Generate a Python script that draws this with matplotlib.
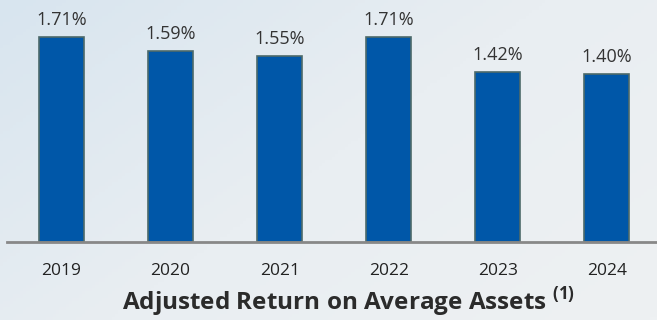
import numpy as np
import matplotlib.pyplot as plt
from matplotlib.colors import LinearSegmentedColormap

years = ["2019", "2020", "2021", "2022", "2023", "2024"]
roaa = [1.71, 1.59, 1.55, 1.71, 1.42, 1.40]
labels = ["1.71%", "1.59%", "1.55%", "1.71%", "1.42%", "1.40%"]

plt.rcParams['font.family'] = ['Open Sans', 'DejaVu Sans']

fig = plt.figure(figsize=(6.57, 3.2), dpi=100)

# soft gradient background
bg = fig.add_axes([0, 0, 1, 1], zorder=-1)
cmap = LinearSegmentedColormap.from_list("bg", ["#d8e5ef", "#e9eef2", "#eef1f3"])
gx, gy = np.meshgrid(np.linspace(0, 1, 200), np.linspace(0, 1, 100))
grad = 0.6 * gx + 0.4 * gy
bg.imshow(grad, cmap=cmap, aspect="auto", extent=[0, 1, 0, 1], origin="upper")
bg.axis("off")

ax = fig.add_axes([7 / 657, 1 - 242 / 320, 650 / 657, 242 / 320])
ax.patch.set_alpha(0)
x = np.arange(len(years))
ax.bar(x, roaa, width=0.41, color="#0057a8", edgecolor="#4d6a6a", linewidth=1.2)

for xi, v, lab in zip(x, roaa, labels):
    ax.text(xi, v + 0.1, lab, ha="center", va="baseline", fontsize=13, color="#333333")

ax.set_xlim(-0.5, 5.46)
ax.set_ylim(0, 242 / 119.9)
for s in ["top", "right", "left"]:
    ax.spines[s].set_visible(False)
ax.spines["bottom"].set_color("#888888")
ax.spines["bottom"].set_linewidth(2)
ax.set_yticks([])
ax.set_xticks(x)
ax.set_xticklabels(years, fontsize=12.5, color="#222222")
ax.tick_params(axis="x", length=0, pad=15)

fig.text(348 / 657, 1 - 310 / 320, r"Adjusted Return on Average Assets $^{\mathregular{(1)}}$",
         ha="center", va="baseline", fontsize=17.5, fontweight="bold", color="#2b2b2b")

plt.savefig("out.png", dpi=100)
